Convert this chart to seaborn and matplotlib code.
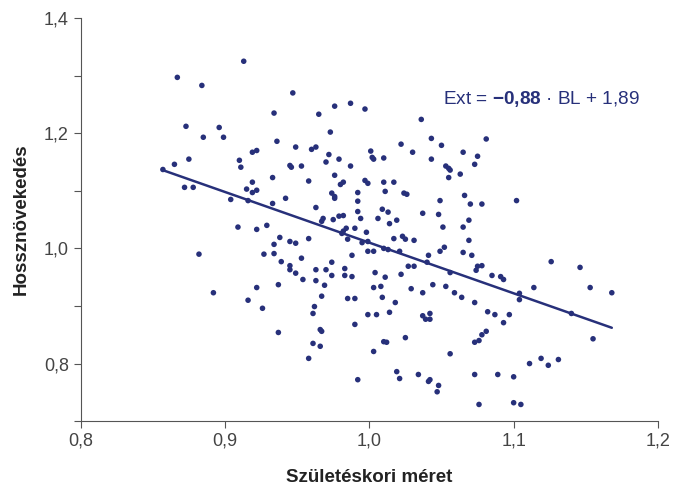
import numpy as np
import pandas as pd
import matplotlib
matplotlib.use("Agg")
import matplotlib.pyplot as plt
import matplotlib.ticker as mticker
import seaborn as sns

# születéskori méret (BL) és hossznövekedés (Ext), leolvasva
bl = [
    0.913, 0.867, 0.884, 0.873, 0.896, 0.885, 0.899, 0.922, 0.919, 0.875,
    0.910, 0.865, 0.911, 0.857, 0.947, 0.934, 0.987, 0.976, 0.997, 0.965,
    0.973, 0.936, 0.949, 0.960, 0.963, 1.001, 1.002, 1.003, 1.010, 0.972,
    0.979, 0.970, 0.945, 0.946, 0.953, 0.987, 1.036, 1.043, 1.022, 1.050,
    1.081, 1.030, 1.065, 1.075, 1.043, 1.073, 1.053, 1.055, 0.872, 0.878,
    0.919, 0.915, 0.919, 0.922, 0.904, 0.916, 0.909, 0.922, 0.929, 0.882,
    0.927, 0.922, 0.933, 0.976, 0.958, 0.982, 0.980, 0.997, 0.999, 1.010,
    0.992, 1.011, 0.974, 0.976, 0.976, 0.942, 0.992, 0.933, 0.963, 0.992,
    1.009, 1.013, 0.982, 0.979, 0.975, 0.994, 1.006, 0.968, 0.967, 1.014,
    0.984, 0.982, 0.981, 0.990, 0.998, 0.938, 0.958, 0.985, 0.945, 0.949,
    0.995, 0.999, 0.934, 1.010, 0.999, 1.003, 1.013, 0.934, 0.988, 0.953,
    0.939, 0.974, 0.945, 0.945, 0.970, 0.963, 0.983, 0.949, 0.974, 0.983,
    0.988, 1.004, 0.954, 0.963, 1.011, 0.937, 0.969, 1.003, 1.008, 1.056,
    1.063, 1.055, 1.017, 1.024, 1.026, 1.066, 1.049, 1.070, 1.078, 1.037,
    1.048, 1.019, 1.069, 1.051, 1.065, 1.023, 1.025, 1.017, 1.031, 1.069,
    1.052, 1.049, 1.065, 1.021, 1.071, 1.041, 1.075, 1.078, 1.074, 1.040,
    1.027, 1.031, 1.056, 1.085, 1.091, 1.093, 1.022, 1.044, 1.053, 1.029,
    1.102, 1.126, 1.146, 1.114, 1.153, 0.892, 0.916, 0.926, 0.967, 0.985,
    0.990, 1.009, 0.962, 0.961, 0.999, 1.005, 1.014, 0.990, 0.937, 0.966,
    0.967, 0.961, 0.966, 1.010, 1.012, 1.003, 0.958, 0.992, 1.037, 1.059,
    1.064, 1.018, 1.073, 1.082, 1.087, 1.097, 1.093, 1.037, 1.042, 1.039,
    1.042, 1.025, 1.081, 1.078, 1.076, 1.073, 1.056, 1.019, 1.021, 1.034,
    1.073, 1.089, 1.041, 1.042, 1.048, 1.047, 1.076, 1.104, 1.104, 1.168,
    1.140, 1.155, 1.119, 1.111, 1.124, 1.131, 1.100, 1.100, 1.105,
]
ext = [
    1.325, 1.297, 1.283, 1.212, 1.210, 1.193, 1.193, 1.170, 1.167, 1.155,
    1.153, 1.146, 1.141, 1.137, 1.270, 1.235, 1.252, 1.247, 1.242, 1.233,
    1.202, 1.186, 1.176, 1.172, 1.176, 1.169, 1.158, 1.155, 1.157, 1.163,
    1.155, 1.150, 1.144, 1.141, 1.143, 1.143, 1.224, 1.191, 1.181, 1.179,
    1.190, 1.167, 1.167, 1.160, 1.155, 1.146, 1.143, 1.139, 1.106, 1.106,
    1.115, 1.103, 1.097, 1.101, 1.085, 1.083, 1.037, 1.033, 1.040, 0.990,
    0.990, 0.932, 1.123, 1.127, 1.117, 1.115, 1.111, 1.118, 1.113, 1.115,
    1.097, 1.099, 1.096, 1.090, 1.087, 1.087, 1.082, 1.078, 1.071, 1.064,
    1.068, 1.063, 1.057, 1.056, 1.050, 1.052, 1.052, 1.052, 1.047, 1.043,
    1.035, 1.030, 1.026, 1.035, 1.028, 1.019, 1.017, 1.016, 1.012, 1.009,
    1.010, 1.012, 1.007, 1.000, 0.995, 0.995, 0.998, 0.991, 0.988, 0.983,
    0.977, 0.976, 0.970, 0.963, 0.963, 0.963, 0.965, 0.957, 0.953, 0.953,
    0.951, 0.958, 0.946, 0.944, 0.950, 0.937, 0.936, 0.932, 0.934, 1.136,
    1.129, 1.123, 1.115, 1.096, 1.094, 1.092, 1.083, 1.077, 1.077, 1.061,
    1.059, 1.049, 1.049, 1.037, 1.037, 1.021, 1.016, 1.017, 1.014, 1.014,
    1.002, 0.995, 0.993, 0.995, 0.988, 0.988, 0.969, 0.970, 0.962, 0.976,
    0.969, 0.969, 0.958, 0.953, 0.951, 0.946, 0.955, 0.937, 0.934, 0.930,
    1.083, 0.977, 0.967, 0.932, 0.932, 0.923, 0.910, 0.896, 0.917, 0.913,
    0.913, 0.915, 0.899, 0.887, 0.885, 0.885, 0.889, 0.868, 0.854, 0.859,
    0.856, 0.835, 0.830, 0.838, 0.837, 0.821, 0.809, 0.772, 0.923, 0.923,
    0.915, 0.906, 0.906, 0.890, 0.885, 0.885, 0.871, 0.883, 0.887, 0.877,
    0.877, 0.845, 0.856, 0.850, 0.840, 0.837, 0.817, 0.786, 0.774, 0.781,
    0.781, 0.781, 0.769, 0.772, 0.762, 0.751, 0.729, 0.922, 0.911, 0.923,
    0.887, 0.843, 0.809, 0.800, 0.797, 0.807, 0.777, 0.732, 0.729,
]

# regressziós egyenes: Ext = -0,88 * BL + 1,89
slope = -0.88
intercept = 1.89

NAVY = "#27307a"

df = pd.DataFrame({"bl": bl, "ext": ext})
line_x = np.array([df["bl"].min(), df["bl"].max()])
line_df = pd.DataFrame({"bl": line_x, "ext": slope * line_x + intercept})

sns.set_style("white")
plt.rcParams["font.family"] = ["Liberation Sans", "DejaVu Sans"]
plt.rcParams["mathtext.fontset"] = "custom"
plt.rcParams["mathtext.rm"] = "Liberation Sans"
plt.rcParams["mathtext.bf"] = "Liberation Sans:bold"

fig = plt.figure(figsize=(6.89, 4.88), dpi=100)
ax = fig.add_axes([0.117, 0.137, 0.838, 0.826])

sns.scatterplot(data=df, x="bl", y="ext", color=NAVY, s=16,
                edgecolor="none", ax=ax, zorder=3)
sns.lineplot(data=line_df, x="bl", y="ext", color=NAVY, linewidth=1.8,
             ax=ax, zorder=2)

ax.text(1.051, 1.26, r"Ext = $\mathbf{-0{,}88}$ · BL + 1,89",
        color=NAVY, fontsize=13.7, ha="left", va="center")

ax.set_xlim(0.8, 1.2)
ax.set_ylim(0.7, 1.4)
ax.set_xticks([0.8, 0.9, 1.0, 1.1, 1.2])
ax.set_yticks([0.8, 1.0, 1.2, 1.4])
ax.yaxis.set_minor_locator(mticker.MultipleLocator(0.1))
fmt = mticker.FuncFormatter(lambda v, p: f"{v:.1f}".replace(".", ","))
ax.xaxis.set_major_formatter(fmt)
ax.yaxis.set_major_formatter(fmt)

ax.set_xlabel("Születéskori méret", fontsize=13.5, fontweight="bold",
              color="#222222", labelpad=14)
ax.set_ylabel("Hossznövekedés", fontsize=13.5, fontweight="bold",
              color="#222222", labelpad=10)

sns.despine(ax=ax)
for side in ["left", "bottom"]:
    ax.spines[side].set_color("#555555")
    ax.spines[side].set_linewidth(0.8)
ax.tick_params(axis="both", which="both", direction="out", length=5, width=0.8,
               color="#555555", labelsize=13, labelcolor="#444444",
               left=True, bottom=True)

plt.savefig("out.png", dpi=100)
